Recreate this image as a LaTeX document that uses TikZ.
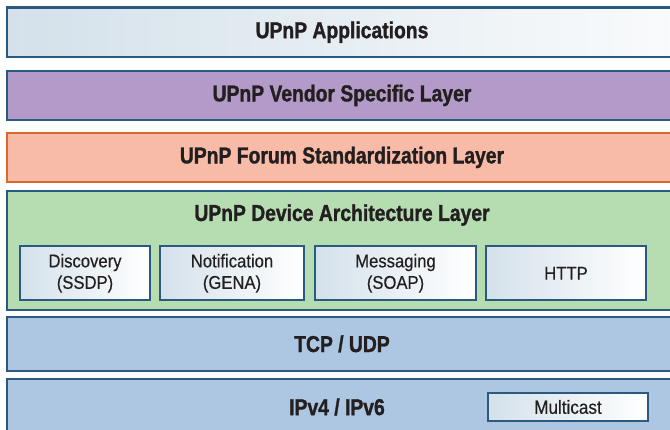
\documentclass[tikz,border=0pt]{standalone}
\usepackage{fontspec}
\setmainfont{Liberation Sans}[FakeStretch=0.84, BoldFeatures={FakeBold=1.3}]
\newfontfamily\subfont{Liberation Sans}[FakeStretch=0.9, FakeBold=0.4]
\definecolor{bordc}{RGB}{42,90,128}
\definecolor{forumbord}{RGB}{216,105,45}
\definecolor{appL}{RGB}{212,225,234}
\definecolor{appR}{RGB}{249,251,252}
\definecolor{vendc}{RGB}{179,154,200}
\definecolor{forumc}{RGB}{247,187,167}
\definecolor{devc}{RGB}{182,220,178}
\definecolor{netc}{RGB}{173,199,227}
\definecolor{txtc}{RGB}{35,31,32}
\begin{document}
\begin{tikzpicture}[x=1pt,y=-1pt,
  layer/.style={draw=bordc, line width=2.4pt, rectangle, inner sep=0pt, minimum width=670pt, text=txtc, font=\fontsize{23}{25}\selectfont\bfseries},
  subbox/.style={draw=bordc, line width=2pt, rectangle, inner sep=0pt, left color=appL, right color=white, minimum height=54pt, text=txtc, align=center, font=\subfont\fontsize{18.5}{21.5}\selectfont},
  title/.style={text=txtc, inner sep=0pt, font=\fontsize{23}{25}\selectfont\bfseries}]
\useasboundingbox (0,0) rectangle (670,429);
% layers
\node[layer, left color=appL, right color=appR, minimum height=49.7pt] (app) at (342,32.2) {UPnP Applications};
\node[layer, fill=vendc, minimum height=49.3pt] (vend) at (342,95.4) {UPnP Vendor Specific Layer};
\node[layer, fill=forumc, draw=forumbord, minimum height=49.3pt] (forum) at (342,157.4) {UPnP Forum Standardization Layer};
\node[layer, fill=devc, minimum height=119.3pt] (dev) at (342,250.4) {};
\node[title] (devt) at (342,215) {UPnP Device Architecture Layer};
\node[layer, fill=netc, minimum height=53.7pt] (tcp) at (342,343.9) {TCP / UDP};
\node[layer, fill=netc, minimum height=56pt] (ip) at (342,406.7) {};
\node[title] (ipt) at (337,407) {IPv4 / IPv6};
% sub boxes
\node[subbox, minimum width=130pt] (disc) at (85,273.3) {Discovery\\(SSDP)};
\node[subbox, minimum width=144pt] (notif) at (232,273.3) {Notification\\(GENA)};
\node[subbox, minimum width=161pt] (msg) at (395.5,273.3) {Messaging\\(SOAP)};
\node[subbox, minimum width=160pt] (http) at (566,273.3) {HTTP};
\node[subbox, minimum width=160pt, minimum height=28pt, line width=2pt, font=\subfont\fontsize{19}{21}\selectfont] (mc) at (568,407) {Multicast};
\end{tikzpicture}
\end{document}
